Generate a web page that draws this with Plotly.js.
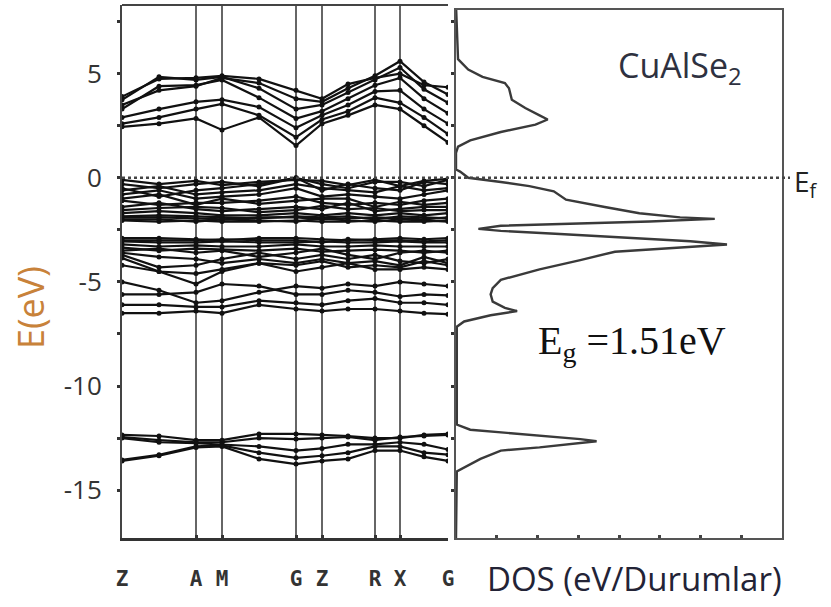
<!DOCTYPE html>
<html>
<head>
<meta charset="utf-8">
<script src="https://cdn.plot.ly/plotly-3.0.1.min.js"></script>
<style>html,body{margin:0;padding:0;background:#fff}#chart{width:831px;height:607px}</style>
</head>
<body>
<div id="chart"></div>
<script>
// k-path positions (arbitrary path length units) and labels
var kPos = [0, 37, 74, 100, 137, 174, 200, 226, 253, 278, 302, 326];
var kSymPos = [0, 74, 100, 174, 200, 253, 278, 326];
var kSymLabels = ['Z', 'A', 'M', 'G', 'Z', 'R', 'X', 'G'];

// conduction bands (eV) at kPos
var condBands = [
  [2.45, 2.6, 2.85, 2.3, 2.9, 1.55, 2.6, 3.0, 3.5, 3.3, 2.5, 1.7],
  [2.6, 2.9, 3.3, 3.55, 3.0, 1.95, 2.8, 3.2, 3.85, 3.6, 2.9, 2.1],
  [2.9, 3.3, 3.65, 3.75, 3.4, 2.4, 3.0, 3.5, 4.15, 4.2, 3.3, 2.6],
  [3.3, 4.4, 4.45, 4.7, 3.85, 2.85, 3.2, 3.8, 4.45, 4.8, 3.8, 3.1],
  [3.75, 4.85, 4.7, 4.85, 4.3, 3.3, 3.5, 4.1, 4.7, 5.3, 4.25, 3.6],
  [3.5, 4.2, 4.4, 4.8, 4.55, 3.8, 3.65, 4.3, 4.9, 5.6, 4.6, 4.0],
  [3.9, 4.75, 4.8, 4.9, 4.75, 4.2, 3.8, 4.5, 4.8, 5.0, 4.45, 4.35]
];

// valence bands (eV)
var valBands = [
  [-0.1, -0.3, -0.15, -0.35, -0.2, -0.1, -0.15, -0.35, -0.1, -0.4, -0.15, -0.05],
  [-0.3, -0.5, -0.3, -0.2, -0.4, 0.0, -0.3, -0.5, -0.2, -0.2, -0.4, -0.1],
  [-0.5, -0.9, -0.6, -0.5, -0.3, 0.0, -0.6, -0.3, -0.5, -0.6, -0.2, -0.3],
  [-0.6, -0.4, -0.8, -0.7, -0.6, -0.3, -0.5, -0.6, -0.7, -0.4, -0.6, -0.5],
  [-0.8, -0.6, -1.0, -0.9, -0.8, -0.5, -0.9, -0.8, -0.9, -1.0, -0.8, -0.6],
  [-1.0, -0.8, -1.3, -1.0, -1.25, -1.1, -1.0, -1.0, -1.4, -1.15, -1.3, -1.2],
  [-1.1, -1.3, -1.2, -1.2, -1.1, -0.9, -1.2, -1.3, -1.2, -1.3, -1.1, -1.0],
  [-1.4, -1.2, -1.5, -1.6, -1.5, -1.4, -1.5, -1.2, -1.6, -1.5, -1.4, -1.4],
  [-1.55, -1.45, -1.4, -1.45, -1.65, -1.55, -1.35, -1.5, -1.45, -1.6, -1.55, -1.55],
  [-1.7, -1.6, -1.7, -1.8, -1.8, -1.7, -1.8, -1.7, -1.8, -1.7, -1.8, -1.7],
  [-1.85, -1.8, -1.85, -1.9, -1.95, -1.85, -1.9, -1.85, -2.0, -1.85, -1.9, -1.95],
  [-1.9, -1.9, -1.95, -2.0, -1.9, -1.9, -2.0, -1.95, -1.9, -1.95, -2.0, -1.9],
  [-2.0, -2.0, -2.1, -2.0, -2.05, -2.1, -1.95, -2.05, -2.1, -2.0, -2.05, -2.1],
  [-2.05, -2.1, -2.05, -2.1, -2.1, -2.05, -2.1, -2.1, -2.05, -2.1, -2.1, -2.05],
  [-2.9, -2.9, -2.95, -3.0, -2.9, -2.9, -2.95, -3.0, -2.95, -2.9, -2.95, -2.9],
  [-3.0, -3.0, -3.0, -2.95, -3.0, -3.0, -3.1, -2.95, -3.0, -3.0, -3.05, -3.0],
  [-3.05, -3.1, -3.1, -3.05, -3.1, -3.1, -3.05, -3.1, -3.1, -3.05, -3.1, -3.1],
  [-3.2, -3.3, -3.25, -3.3, -3.3, -3.2, -3.3, -3.3, -3.25, -3.3, -3.3, -3.3],
  [-3.35, -3.5, -3.4, -3.45, -3.5, -3.4, -3.55, -3.5, -3.45, -3.5, -3.6, -3.5],
  [-3.5, -3.4, -3.6, -3.5, -3.8, -3.6, -3.4, -3.7, -3.9, -3.6, -3.5, -3.6],
  [-3.6, -3.8, -3.9, -4.1, -3.9, -4.1, -3.9, -4.1, -4.0, -4.2, -3.8, -4.1],
  [-3.7, -4.3, -4.2, -3.9, -3.6, -3.9, -3.7, -3.9, -3.7, -4.0, -4.1, -3.9],
  [-3.85, -4.5, -5.1, -4.5, -4.1, -4.2, -4.0, -4.3, -4.2, -4.3, -4.0, -4.2],
  [-4.2, -4.5, -4.6, -4.4, -4.1, -4.5, -4.3, -4.1, -4.4, -4.4, -4.3, -4.4],
  [-5.0, -5.4, -6.0, -5.9, -5.5, -5.2, -5.3, -5.1, -5.2, -5.0, -5.1, -5.2],
  [-5.6, -5.6, -5.5, -5.1, -5.2, -5.6, -5.6, -5.4, -5.5, -5.7, -5.6, -5.65],
  [-6.1, -6.1, -6.2, -6.2, -5.9, -6.0, -6.1, -5.9, -5.8, -6.0, -6.0, -6.1],
  [-6.5, -6.5, -6.4, -6.5, -6.1, -6.3, -6.4, -6.3, -6.3, -6.4, -6.5, -6.55]
];

// semi-core bands (eV)
var coreBands = [
  [-12.35, -12.4, -12.6, -12.6, -12.3, -12.3, -12.35, -12.4, -12.5, -12.5, -12.35, -12.3],
  [-12.45, -12.6, -12.7, -12.7, -12.5, -12.55, -12.5, -12.45, -12.6, -12.45, -12.4, -12.35],
  [-12.5, -12.7, -12.75, -12.8, -12.9, -13.1, -13.0, -12.8, -12.8, -12.7, -12.8, -13.05],
  [-13.55, -13.3, -12.9, -12.85, -13.2, -13.45, -13.35, -13.2, -12.9, -12.9, -13.2, -13.3],
  [-13.6, -13.35, -12.95, -12.9, -13.5, -13.75, -13.6, -13.5, -13.1, -13.1, -13.4, -13.6]
];

// DOS curve
var dosE = [8.3, 5.7, 5.2, 4.85, 4.55, 4.3, 3.75, 3.35, 3.0, 2.8, 2.55, 2.2, 1.8, 1.5, 1.2, 0.4, 0.3, 0.0,
  -0.2, -0.4, -0.65, -1.05, -1.4, -1.7, -1.9, -1.97, -2.1, -2.2, -2.3, -2.45, -2.55, -2.7, -2.9, -3.05, -3.2,
  -3.4, -3.55, -3.95, -4.4, -4.9, -5.3, -5.6, -5.95, -6.25, -6.4, -6.6, -6.9, -7.15, -11.85, -12.1, -12.25,
  -12.4, -12.55, -12.65, -12.8, -12.95, -13.1, -13.5, -14.1, -17.3];
var dosVal = [0, 0.05, 0.3, 0.65, 1.2, 1.3, 1.37, 1.7, 2.05, 2.25, 1.95, 1.1, 0.35, 0.05, 0, 0, 0.1, 0.3,
  1.1, 1.8, 2.4, 2.7, 3.65, 4.5, 5.5, 6.35, 4.75, 2.55, 1.1, 0.55, 1.1, 2.55, 4.3, 5.75, 6.65,
  5.0, 3.9, 3.05, 2.05, 1.1, 0.9, 0.85, 0.9, 1.2, 1.5, 0.85, 0.2, 0.02, 0.02, 0.35, 1.25,
  2.3, 3.05, 3.45, 2.8, 2.05, 1.1, 0.6, 0.02, 0];

var yTickVals = [-17.5, -15, -12.5, -10, -7.5, -5, -2.5, 0, 2.5, 5, 7.5];
var yTickText = ['', '-15', '', '-10', '', '-5', '', '0', '', '5', ''];

var W = 831, H = 607;
function px(x) { return x / W; }
function py(y) { return 1 - y / H; }

var traces = [];
function addBands(list) {
  list.forEach(function (b) {
    traces.push({
      x: kPos, y: b, type: 'scatter', mode: 'lines+markers',
      line: {color: '#111', width: 2.2},
      marker: {color: '#111', size: 5},
      xaxis: 'x', yaxis: 'y', hoverinfo: 'skip', showlegend: false
    });
  });
}
addBands(condBands);
addBands(valBands);
addBands(coreBands);

traces.push({
  x: dosVal, y: dosE, type: 'scatter', mode: 'lines',
  line: {color: '#3a3a3a', width: 2.4},
  xaxis: 'x2', yaxis: 'y2', hoverinfo: 'skip', showlegend: false
});

var axisCol = '#555';
var layout = {
  width: W, height: H,
  margin: {l: 0, r: 0, t: 0, b: 0},
  paper_bgcolor: '#fff', plot_bgcolor: 'rgba(0,0,0,0)',
  showlegend: false,
  xaxis: {
    domain: [px(122), px(448)], range: [0, 326],
    tickvals: kSymPos, ticktext: kSymLabels,
    showgrid: true, gridcolor: '#666', gridwidth: 1.5,
    zeroline: false, showline: true, linecolor: '#333', linewidth: 2.5,
    mirror: false, ticks: 'inside', ticklen: 3, tickwidth: 3, tickcolor: '#333',
    ticklabelstandoff: 20,
    tickfont: {family: 'DejaVu Sans Mono', size: 21, color: '#333', weight: 'bold'},
    automargin: false, fixedrange: true
  },
  yaxis: {
    domain: [py(538), py(5)], range: [-17.3, 8.3],
    tickvals: yTickVals, ticktext: yTickText,
    showgrid: false, zeroline: false, showline: true, linecolor: '#444', linewidth: 2,
    ticks: 'outside', ticklen: 3, tickwidth: 3, tickcolor: '#333',
    ticklabelstandoff: 10,
    tickfont: {family: 'Open Sans', size: 26, color: '#333'},
    automargin: false, fixedrange: true
  },
  xaxis2: {
    domain: [px(456), px(782)], range: [0, 8], anchor: 'y2',
    dtick: 1, tick0: 0, showticklabels: false,
    showgrid: false, zeroline: false, showline: true, linecolor: axisCol, linewidth: 2,
    mirror: true, ticks: 'inside', ticklen: 3, tickwidth: 3, tickcolor: '#444',
    automargin: false, fixedrange: true
  },
  yaxis2: {
    domain: [py(538), py(10)], range: [-17.3, 8.06], anchor: 'x2',
    tickvals: yTickVals, showticklabels: false,
    showgrid: false, zeroline: false, showline: true, linecolor: axisCol, linewidth: 2,
    mirror: true, ticks: 'outside', ticklen: 3, tickwidth: 3, tickcolor: '#333',
    automargin: false, fixedrange: true
  },
  shapes: [
    {type: 'line', xref: 'paper', yref: 'paper', x0: px(122), x1: px(448), y0: py(5), y1: py(5),
     line: {color: '#444', width: 2}},
    {type: 'line', xref: 'paper', yref: 'y', x0: px(122), x1: px(790), y0: 0, y1: 0,
     line: {color: '#444', width: 2.5, dash: 'dot'}}
  ],
  annotations: [
    {xref: 'paper', yref: 'paper', x: px(680), y: py(67), xanchor: 'center', yanchor: 'middle',
     text: 'CuAlSe<sub>2</sub>', showarrow: false,
     font: {family: 'Open Sans', size: 34, color: '#2e3140'}},
    {xref: 'paper', yref: 'paper', x: px(792), y: py(183), xanchor: 'left', yanchor: 'middle',
     text: 'E<sub>f</sub>', showarrow: false,
     font: {family: 'Open Sans', size: 28, color: '#222'}},
    {xref: 'paper', yref: 'paper', x: px(632), y: py(343), xanchor: 'center', yanchor: 'middle',
     text: 'E<sub>g</sub> =1.51eV', showarrow: false,
     font: {family: 'Liberation Serif', size: 40, color: '#111'}},
    {xref: 'paper', yref: 'paper', x: px(30), y: py(308), xanchor: 'center', yanchor: 'middle',
     text: 'E(eV)', textangle: -90, showarrow: false,
     font: {family: 'Open Sans', size: 36, color: '#c8823a'}},
    {xref: 'paper', yref: 'paper', x: px(634), y: py(578), xanchor: 'center', yanchor: 'middle',
     text: 'DOS (eV/Durumlar)', showarrow: false,
     font: {family: 'Open Sans', size: 33, color: '#232336'}}
  ]
};

Plotly.newPlot('chart', traces, layout, {staticPlot: true, displayModeBar: false});
</script>
</body>
</html>
